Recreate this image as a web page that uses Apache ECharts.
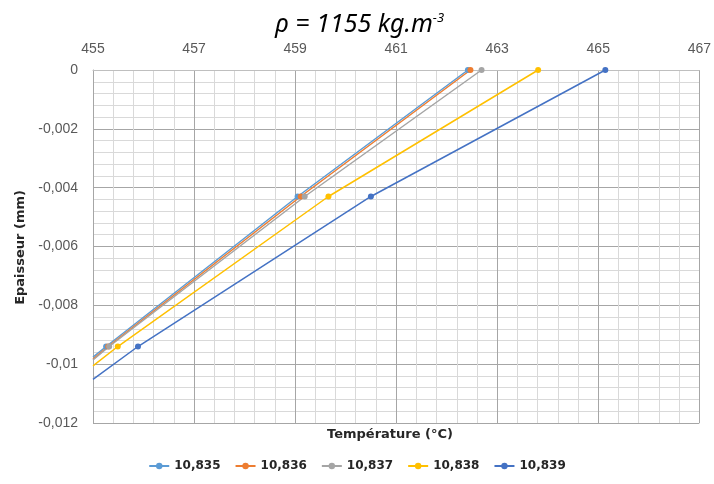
<!DOCTYPE html>
<html>
<head>
    <meta charset="utf-8">
    <title>ECharts</title>
    <script src="https://cdn.jsdelivr.net/npm/echarts@6/dist/echarts.min.js"></script>
</head>
<body style="margin:0">
    <div id="main" style="width: 714px;height:484px;"></div>
    <script type="text/javascript">
        // données
        var seriesNames = ['10,835', '10,836', '10,837', '10,838', '10,839'];
        var colors = ['#5B9BD5', '#ED7D31', '#A5A5A5', '#FFC000', '#4472C4'];
        // épaisseur (mm) des trois points mesurés
        var thickness = [-0.0094, -0.0043, 0];
        // température (°C) de chaque point, par série
        var temps = [
            [455.26, 459.05, 462.42],
            [455.30, 459.11, 462.47],
            [455.32, 459.19, 462.69],
            [455.49, 459.66, 463.81],
            [455.89, 460.50, 465.14]
        ];
        // prolongement de la courbe jusqu'au bord gauche (455 °C)
        var edgeTemp = 455;
        var edgeThickness = [-0.00976, -0.00983, -0.00986, -0.01006, -0.01052];

        var myChart = echarts.init(document.getElementById('main'));

        var series = [];
        for (var i = 0; i < seriesNames.length; i++) {
            var data = [{ value: [edgeTemp, edgeThickness[i]], symbol: 'none' }];
            for (var j = 0; j < thickness.length; j++) {
                data.push([temps[i][j], thickness[j]]);
            }
            series.push({
                name: seriesNames[i],
                type: 'line',
                data: data,
                symbol: 'circle',
                symbolSize: 6,
                color: colors[i],
                lineStyle: { width: 1.5 },
                clip: false
            });
        }

        var fmt = function (v) {
            return String(+v.toFixed(4)).replace('.', ',');
        };

        var option = {
            animation: false,
            title: {
                text: '{a|ρ = 1155 kg.m}{s|-3}',
                left: 270,
                top: 4,
                textStyle: {
                    rich: {
                        a: { fontFamily: 'Noto Sans', fontStyle: 'italic', fontWeight: 'normal', fontSize: 25, color: '#000', lineHeight: 32 },
                        s: { fontFamily: 'Noto Sans', fontStyle: 'italic', fontWeight: 'normal', fontSize: 13, color: '#000', padding: [0, 0, 14, 0] }
                    }
                }
            },
            grid: { left: 93, right: 11, top: 70, bottom: 61 },
            legend: {
                bottom: 7,
                left: 'center',
                itemWidth: 20,
                itemHeight: 8,
                itemGap: 14,
                textStyle: { fontFamily: 'DejaVu Sans', fontSize: 12, fontWeight: 'bold', color: '#262626' },
                data: seriesNames
            },
            graphic: [{
                type: 'text',
                left: 327,
                top: 428,
                style: { text: 'Température (°C)', font: 'bold 13px "DejaVu Sans"', fill: '#262626' }
            }, {
                type: 'text',
                left: 14,
                top: 190,
                rotation: Math.PI / 2,
                style: { text: 'Epaisseur (mm)', font: 'bold 13px "DejaVu Sans"', fill: '#262626' }
            }],
            xAxis: {
                type: 'value',
                position: 'top',
                min: 455,
                max: 467,
                interval: 2,
                axisLine: { show: true, lineStyle: { color: '#BFBFBF' } },
                axisTick: { show: false },
                axisLabel: { margin: 14, color: '#595959', fontFamily: 'Liberation Sans', fontSize: 14 },
                splitLine: { show: true, lineStyle: { color: '#A6A6A6' } },
                minorTick: { show: false, splitNumber: 5 },
                minorSplitLine: { show: true, lineStyle: { color: '#D9D9D9' } }
            },
            yAxis: {
                type: 'value',
                min: -0.012,
                max: 0,
                interval: 0.002,
                axisLine: { show: true, lineStyle: { color: '#A6A6A6' } },
                axisTick: { show: false },
                axisLabel: { margin: 15, color: '#595959', fontFamily: 'Liberation Sans', fontSize: 14, formatter: fmt },
                splitLine: { show: true, lineStyle: { color: '#A6A6A6' } },
                minorTick: { show: false, splitNumber: 5 },
                minorSplitLine: { show: true, lineStyle: { color: '#D9D9D9' } }
            },
            series: series
        };

        myChart.setOption(option);
    </script>
</body>
</html>
